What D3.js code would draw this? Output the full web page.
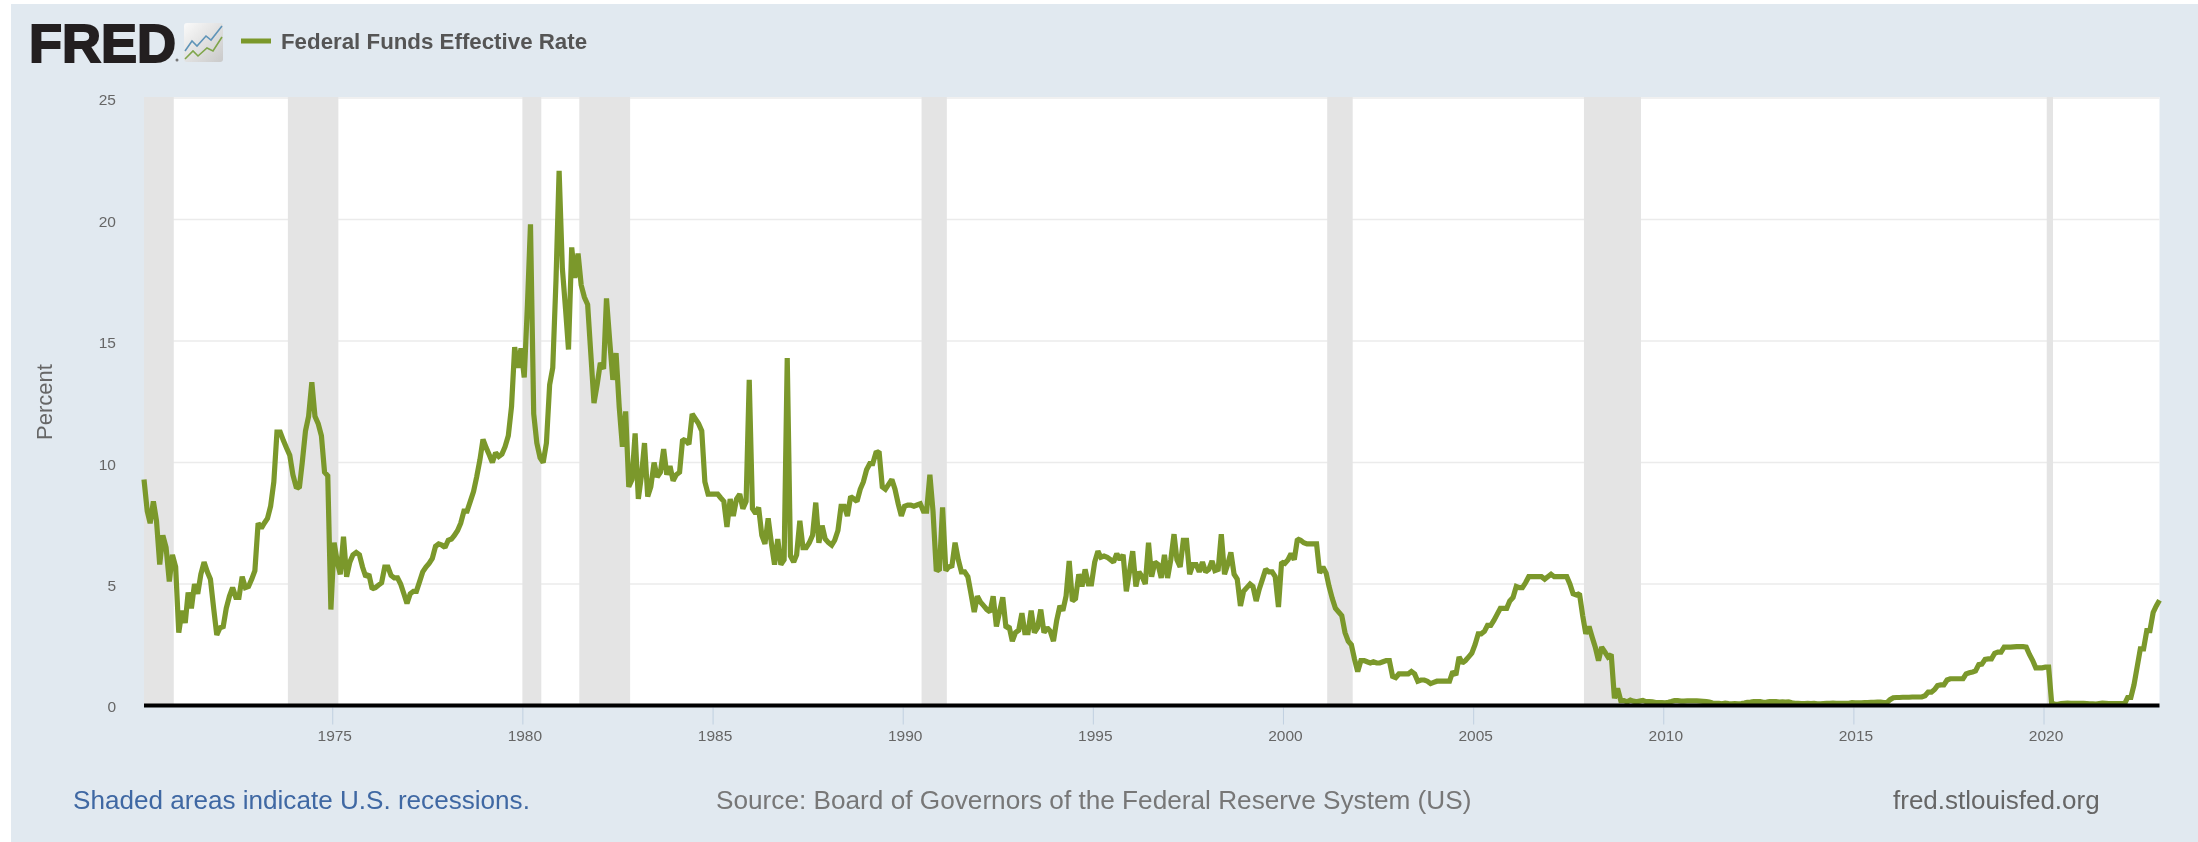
<!DOCTYPE html>
<html><head><meta charset="utf-8">
<script src="https://cdn.jsdelivr.net/npm/d3@7"></script>
<style>html,body{margin:0;padding:0;background:#fff}svg{display:block;filter:blur(0.5px)}text{font-family:"Liberation Sans",Arial,sans-serif}</style>
</head><body><div id="chart"></div>
<script>
const seriesName = "Federal Funds Effective Rate";
const startYear = 1970;
const rates = [
9.3,8.0,7.5,8.4,7.6,5.8,7.0,6.5,5.1,6.2,5.7,3.0,
3.9,3.4,4.65,4.0,5.0,4.6,5.4,5.9,5.5,5.2,4.0,2.9,
3.2,3.25,4.0,4.5,4.85,4.45,4.45,5.3,4.85,4.9,5.2,5.55,
7.5,7.3,7.5,7.7,8.2,9.2,11.25,11.25,10.9,10.6,10.3,9.5,
9.0,8.95,10.0,11.3,11.9,13.3,11.9,11.6,11.1,9.6,9.45,3.95,
6.7,5.9,5.4,6.95,5.3,5.9,6.2,6.3,6.2,5.7,5.3,5.4,
4.8,4.85,4.95,5.05,5.7,5.7,5.35,5.25,5.25,5.0,4.6,4.2,
4.6,4.7,4.7,5.1,5.5,5.7,5.85,6.05,6.55,6.65,6.6,6.5,
6.8,6.85,7.0,7.2,7.5,8.0,8.0,8.4,8.8,9.4,10.1,10.95,
10.6,10.3,10.0,10.4,10.25,10.35,10.65,11.1,12.3,14.75,13.9,14.7,
13.5,16.5,19.8,12.0,10.8,10.2,10.0,10.8,13.2,13.9,17.5,22.0,
18.0,16.3,14.65,18.85,17.6,18.6,17.3,16.8,16.5,14.5,12.45,13.2,
14.1,13.85,16.75,15.0,13.4,14.5,12.3,10.65,12.1,9.0,9.3,11.2,
8.5,9.5,10.8,8.6,9.0,10.0,9.4,9.6,10.55,9.5,9.85,9.25,
9.5,9.6,10.95,10.9,10.75,12.0,11.8,11.6,11.3,9.2,8.7,8.7,
8.7,8.7,8.55,8.4,7.35,8.5,7.8,8.5,8.7,8.1,8.4,13.4,
8.1,7.9,8.15,7.0,6.65,7.7,6.7,5.8,6.85,5.8,6.0,14.3,
6.15,5.9,6.2,7.6,6.5,6.5,6.7,7.0,8.35,6.7,7.4,6.85,
6.7,6.6,6.8,7.2,8.2,8.2,7.8,8.6,8.5,8.4,8.9,9.2,
9.7,9.95,9.95,10.4,10.45,9.0,8.9,9.1,9.3,8.9,8.3,7.8,
8.2,8.25,8.25,8.2,8.25,8.3,8.0,8.0,9.5,8.0,5.6,5.55,
8.15,5.55,5.7,5.75,6.7,6.0,5.5,5.5,5.3,4.6,3.85,4.5,
4.25,4.1,3.95,3.85,4.5,3.25,3.85,4.45,3.2,3.25,2.65,3.0,
3.1,3.8,3.0,3.0,3.9,3.0,3.2,3.95,3.0,3.2,3.05,2.65,
3.5,4.1,3.9,4.5,5.95,4.3,4.4,5.4,4.9,5.6,5.0,5.0,
5.9,6.35,6.1,6.15,6.1,6.0,5.9,6.25,6.0,6.2,4.7,5.5,
6.35,4.9,5.5,5.3,5.0,6.7,5.3,5.9,5.8,5.25,6.2,5.25,
6.0,7.05,6.0,5.7,6.8,6.8,5.4,5.8,5.8,5.5,5.9,5.5,
5.6,5.95,5.55,5.6,7.05,5.4,5.8,6.3,5.4,5.2,4.1,4.7,
4.85,5.0,4.9,4.3,4.8,5.2,5.6,5.5,5.5,5.3,4.05,5.9,
5.85,6.0,6.25,6.0,6.85,6.8,6.7,6.65,6.65,6.65,6.65,5.45,
5.7,5.45,4.9,4.4,4.0,3.85,3.7,3.0,2.65,2.5,1.9,1.4,
1.85,1.85,1.8,1.75,1.8,1.75,1.75,1.8,1.85,1.85,1.2,1.15,
1.3,1.3,1.3,1.3,1.4,1.3,1.0,1.05,1.05,1.0,0.9,0.95,
1.0,1.0,1.0,1.0,1.0,1.4,1.25,2.0,1.75,1.85,2.0,2.15,
2.5,2.95,2.95,3.05,3.3,3.3,3.5,3.75,4.0,4.0,4.0,4.3,
4.45,4.9,4.85,4.85,5.05,5.3,5.3,5.3,5.3,5.3,5.2,5.3,
5.4,5.3,5.3,5.3,5.3,5.3,5.0,4.6,4.55,4.6,3.7,2.95,
3.25,2.8,2.4,1.85,2.4,2.2,2.0,2.1,0.3,0.7,0.2,0.2,
0.15,0.22,0.18,0.15,0.18,0.21,0.16,0.16,0.15,0.12,0.12,0.12,
0.11,0.13,0.16,0.2,0.2,0.18,0.18,0.19,0.19,0.19,0.19,0.18,
0.17,0.16,0.14,0.1,0.09,0.09,0.07,0.1,0.08,0.07,0.08,0.07,
0.08,0.1,0.13,0.14,0.16,0.16,0.16,0.13,0.14,0.16,0.16,0.16,
0.14,0.15,0.14,0.15,0.11,0.09,0.09,0.08,0.08,0.09,0.08,0.09,
0.07,0.07,0.08,0.09,0.09,0.1,0.09,0.09,0.09,0.09,0.09,0.12,
0.11,0.11,0.11,0.12,0.12,0.13,0.13,0.14,0.14,0.12,0.12,0.24,
0.32,0.33,0.33,0.34,0.34,0.34,0.35,0.35,0.35,0.35,0.4,0.55,
0.55,0.66,0.82,0.85,0.85,1.05,1.1,1.1,1.1,1.1,1.1,1.3,
1.35,1.38,1.42,1.68,1.7,1.9,1.92,1.92,2.15,2.2,2.2,2.4,
2.4,2.4,2.41,2.42,2.42,2.42,2.4,2.1,1.85,1.55,1.55,1.55,
1.58,1.58,0.1,0.05,0.05,0.08,0.09,0.1,0.09,0.09,0.09,0.09,
0.09,0.08,0.07,0.07,0.06,0.08,0.1,0.09,0.08,0.08,0.08,0.08,
0.08,0.08,0.33,0.33,0.85,1.6,2.33,2.33,3.08,3.08,3.83,4.1,
4.33];
const recessions = [
 ["1969-12-01","1970-11-01"],["1973-11-01","1975-03-01"],["1980-01-01","1980-07-01"],
 ["1981-07-01","1982-11-01"],["1990-07-01","1991-03-01"],["2001-03-01","2001-11-01"],
 ["2007-12-01","2009-06-01"],["2020-02-01","2020-04-01"]];
const yTicks = [0,5,10,15,20,25];
const xTickYears = [1975,1980,1985,1990,1995,2000,2005,2010,2015,2020];
const yLabel = "Percent";
const footLeft = "Shaded areas indicate U.S. recessions.";
const footMid = "Source: Board of Governors of the Federal Reserve System (US)";
const footRight = "fred.stlouisfed.org";

const W=2198,H=842,L=144,R=2159.5,T=97,B=705.5;
const lineColor="#7b982b", textGrey="#666";
const svg=d3.select("#chart").append("svg").attr("width",W).attr("height",H);
svg.append("rect").attr("x",11).attr("y",4).attr("width",W-11).attr("height",H-4).attr("fill","#e1e9f0");

const monthDate=i=>new Date(Date.UTC(startYear,i,19));
const x=d3.scaleUtc().domain([monthDate(0),monthDate(rates.length-1)]).range([L,R]);
const y=d3.scaleLinear().domain([0,25]).range([B,98]);

svg.append("rect").attr("x",L).attr("y",T).attr("width",R-L).attr("height",B-T).attr("fill","#fff");
const defs=svg.append("defs");
defs.append("clipPath").attr("id","plot").append("rect").attr("x",L).attr("y",T).attr("width",R-L).attr("height",B-T+2);

// grid
svg.append("g").selectAll("line").data(yTicks.filter(d=>d>0)).join("line")
 .attr("x1",L).attr("x2",R).attr("y1",d=>y(d)).attr("y2",d=>y(d)).attr("stroke","#ebebeb").attr("stroke-width",1.6);
// recessions
svg.append("g").attr("clip-path","url(#plot)").selectAll("rect").data(recessions).join("rect")
 .attr("x",d=>x(new Date(d[0]))).attr("width",d=>x(new Date(d[1]))-x(new Date(d[0])))
 .attr("y",T).attr("height",B-T).attr("fill","#e4e4e4");

// line
const line=d3.line().x((d,i)=>x(monthDate(i))).y(d=>y(d)).curve(d3.curveLinear);
svg.append("path").datum(rates).attr("d",line).attr("fill","none").attr("stroke",lineColor)
 .attr("stroke-width",5.2).attr("stroke-linejoin","miter").attr("stroke-miterlimit",1.5);

// x axis
const xAxis=d3.axisBottom(x).tickValues(xTickYears.map(v=>new Date(Date.UTC(v,0,1)))).tickFormat(d3.utcFormat("%Y")).tickSize(17).tickPadding(5);
const gx=svg.append("g").attr("transform",`translate(0,${B+2})`).call(xAxis);
gx.select(".domain").remove();
gx.selectAll(".tick line").attr("stroke","#c0d0e0").attr("stroke-width",1);
gx.selectAll(".tick text").attr("fill",textGrey).attr("font-size",15.5).attr("dx",2).style("font-family",'"Liberation Sans",Arial,sans-serif');
svg.append("rect").attr("x",L).attr("y",B-2).attr("width",R-L).attr("height",4).attr("fill","#000");

// y axis
const yAxis=d3.axisLeft(y).tickValues(yTicks).tickSize(0).tickPadding(0);
const gy=svg.append("g").attr("transform","translate(116,0)").call(yAxis);
gy.select(".domain").remove();
gy.selectAll(".tick text").attr("fill",textGrey).attr("font-size",15.5).style("font-family",'"Liberation Sans",Arial,sans-serif');
gy.selectAll(".tick").attr("transform",d=>`translate(0,${y(d)+(d==0?2:2.5)})`);

svg.append("text").text(yLabel).attr("transform","translate(52,402) rotate(-90)").attr("text-anchor","middle")
 .attr("fill",textGrey).attr("font-size",22);

// header logo
svg.append("text").text("FRED").attr("x",29).attr("y",62).attr("font-size",54).attr("font-weight",700)
 .attr("fill","#231f20").attr("stroke","#231f20").attr("stroke-width",2);
svg.append("circle").attr("cx",177).attr("cy",60).attr("r",1.5).attr("fill","#777");
const grad=defs.append("linearGradient").attr("id","ico").attr("x1",0).attr("y1",0).attr("x2",1).attr("y2",1);
grad.append("stop").attr("offset","0").attr("stop-color","#fafafa");
grad.append("stop").attr("offset","1").attr("stop-color","#c9c9c9");
const icon=svg.append("g").attr("transform","translate(184,23)");
icon.append("rect").attr("width",39).attr("height",39).attr("rx",3).attr("fill","url(#ico)");
const iconBlue=[[1,28],[8,18],[13,23],[22,13],[27,17],[38,3]], iconGreen=[[1,36],[9,28],[14,33],[23,25],[29,28],[38,14]];
icon.append("path").attr("d",d3.line()(iconBlue)).attr("fill","none").attr("stroke","#5f94b8").attr("stroke-width",1.6);
icon.append("path").attr("d",d3.line()(iconGreen)).attr("fill","none").attr("stroke","#7fa54a").attr("stroke-width",1.6);

// legend
svg.append("line").attr("x1",241).attr("x2",271).attr("y1",41).attr("y2",41).attr("stroke",lineColor).attr("stroke-width",5);
svg.append("text").text(seriesName).attr("x",281).attr("y",49).attr("font-size",22.3).attr("font-weight",700).attr("fill","#555");

// footer
svg.append("text").text(footLeft).attr("x",73).attr("y",809).attr("font-size",26.1).attr("fill","#3f68a3");
svg.append("text").text(footMid).attr("x",716).attr("y",809).attr("font-size",26.2).attr("fill","#777");
svg.append("text").text(footRight).attr("x",1893).attr("y",809).attr("font-size",26).attr("fill","#666");
</script></body></html>
